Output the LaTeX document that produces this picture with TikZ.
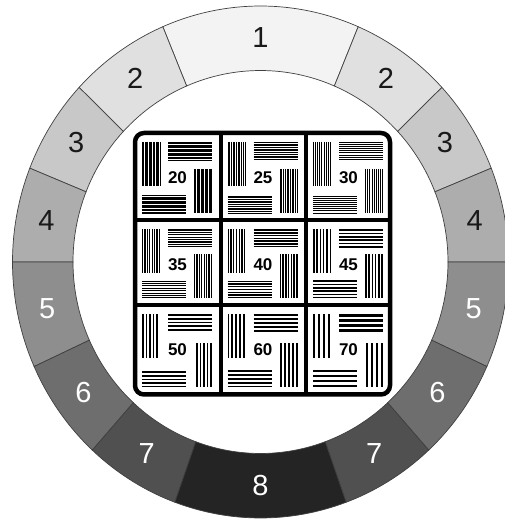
\documentclass[tikz,border=0pt]{standalone}
\usepackage{fontspec}
\setmainfont{Liberation Sans}
\usetikzlibrary{calc}
\definecolor{g1}{gray}{0.953}
\definecolor{g2}{gray}{0.878}
\definecolor{g3}{gray}{0.784}
\definecolor{g4}{gray}{0.678}
\definecolor{g5}{gray}{0.557}
\definecolor{g6}{gray}{0.431}
\definecolor{g7}{gray}{0.314}
\definecolor{g8}{gray}{0.141}
\definecolor{ringline}{gray}{0.25}
\tikzset{
  ringedge/.style={draw=ringline, line width=0.7pt},
  ringlabel/.style={font=\fontsize{29}{29}\selectfont, inner sep=0pt},
  darklabel/.style={ringlabel, text=black!90},
  lightlabel/.style={ringlabel, text=white},
  celllabel/.style={font=\fontsize{17}{17}\selectfont\bfseries, inner sep=0pt},
  gridframe/.style={line width=4.5pt, rounded corners=9pt},
  griddiv/.style={line width=4pt},
}
\newcommand\ringpiece[3]{%
  \path[fill=#3, ringedge] ($(c)+(#1:248 and 256)$)
    arc[start angle=#1, end angle=#2, x radius=248, y radius=256]
    -- ($(c)+(#2:187.5 and 191.5)$)
    arc[start angle=#2, end angle=#1, x radius=187.5, y radius=191.5] -- cycle;}
% #1 name, #2 x0, #3 y0, #4 h, #5 label, #6 N, #7 period
\newcommand\tcell[7]{%
  \pgfmathsetmacro\lw{0.47*#7}%
  \foreach \i in {1,...,#6}{%
    \pgfmathsetmacro\d{\lw/2+(\i-1)*#7}%
    \draw[line width=\lw pt] ({#2+7+\d},{#3+9}) -- ({#2+7+\d},{#3+53});
    \draw[line width=\lw pt] ({#2+77-\d},{#3+#4-51}) -- ({#2+77-\d},{#3+#4-7});
    \draw[line width=\lw pt] ({#2+33},{#3+9+\d}) -- ({#2+77},{#3+9+\d});
    \draw[line width=\lw pt] ({#2+7},{#3+#4-7-\d}) -- ({#2+51},{#3+#4-7-\d});
  }%
  \node[celllabel] (#1) at ({#2+42.5},{#3+44.6}) {#5};}
\begin{document}
\begin{tikzpicture}[x=1pt,y=1pt]
\useasboundingbox (0,0) rectangle (505,520);
\fill[white] (0,0) rectangle (505,520);
\coordinate (c) at (260.5,258);
% ring
\ringpiece{66.8}{113.2}{g1}
\ringpiece{113.2}{137}{g2}
\ringpiece{43}{66.8}{g2}
\ringpiece{137}{158.5}{g3}
\ringpiece{21.5}{43}{g3}
\ringpiece{158.5}{180}{g4}
\ringpiece{0}{21.5}{g4}
\ringpiece{180}{204.1}{g5}
\ringpiece{335.9}{360}{g5}
\ringpiece{204.1}{227.3}{g6}
\ringpiece{312.7}{335.9}{g6}
\ringpiece{227.3}{249.8}{g7}
\ringpiece{290.2}{312.7}{g7}
\ringpiece{249.8}{290.2}{g8}
% ring labels
\node[darklabel] (r1) at ($(c)+(90:218 and 224)$) {1};
\node[darklabel] (r2l) at ($(c)+(125.1:218 and 224)$) {2};
\node[darklabel] (r2r) at ($(c)+(54.9:218 and 224)$) {2};
\node[darklabel] (r3l) at ($(c)+(147.75:218 and 224)$) {3};
\node[darklabel] (r3r) at ($(c)+(32.25:218 and 224)$) {3};
\node[darklabel] (r4l) at ($(c)+(169.25:218 and 224)$) {4};
\node[darklabel] (r4r) at ($(c)+(10.75:218 and 224)$) {4};
\node[lightlabel] (r5l) at ($(c)+(192.05:218 and 224)$) {5};
\node[lightlabel] (r5r) at ($(c)+(347.95:218 and 224)$) {5};
\node[lightlabel] (r6l) at ($(c)+(215.7:218 and 224)$) {6};
\node[lightlabel] (r6r) at ($(c)+(324.3:218 and 224)$) {6};
\node[lightlabel] (r7l) at ($(c)+(238.55:218 and 224)$) {7};
\node[lightlabel] (r7r) at ($(c)+(301.45:218 and 224)$) {7};
\node[lightlabel] (r8) at ($(c)+(270:218 and 224)$) {8};
% test chart (image coordinates, y downwards)
\begin{scope}[shift={(0,520)}, yscale=-1]
  \tcell{n20}{135}{133}{87.5}{20}{14}{1.35}
  \tcell{n25}{220.5}{133}{87.5}{25}{11}{1.7}
  \tcell{n30}{306}{133}{87.5}{30}{9}{2.1}
  \tcell{n35}{135}{220.5}{85}{35}{8}{2.4}
  \tcell{n40}{220.5}{220.5}{85}{40}{7}{2.75}
  \tcell{n45}{306}{220.5}{85}{45}{6}{3.3}
  \tcell{n50}{135}{305.5}{89}{50}{5}{3.6}
  \tcell{n60}{220.5}{305.5}{89}{60}{5}{3.9}
  \tcell{n70}{306}{305.5}{89}{70}{4}{5}
  \draw[griddiv] (220.5,133) -- (220.5,394.5);
  \draw[griddiv] (306,133) -- (306,394.5);
  \draw[griddiv] (135,220.5) -- (390,220.5);
  \draw[griddiv] (135,305.5) -- (390,305.5);
  \draw[gridframe] (135,133) rectangle (390,394.5);
\end{scope}
\end{tikzpicture}
\end{document}
